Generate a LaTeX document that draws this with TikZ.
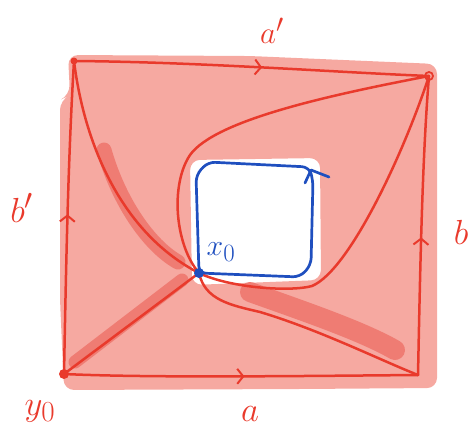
\documentclass[tikz,border=0pt]{standalone}
\usepackage{graphicx}
\usetikzlibrary{arrows.meta,decorations.markings}
\definecolor{pinkfill}{HTML}{F6A9A1}
\definecolor{pinkdark}{HTML}{EF7C73}
\definecolor{penred}{HTML}{E93A2C}
\definecolor{penblue}{HTML}{1F4FBF}
\newcommand{\biglbl}[1]{\scalebox{1.4}{\Huge$#1$}}
\newcommand{\mediumlbl}[1]{\scalebox{1.2}{\Huge$#1$}}
\tikzset{
  edge/.style={draw=penred, line width=2.5pt, line cap=round, line join=round},
  midarrow/.style={postaction={decorate}, decoration={markings, mark=at position #1 with {\arrow[penred]{Straight Barb[length=6pt,width=15pt,line width=2pt]}}}},
  band/.style={draw=pinkdark, line cap=round, line join=round},
  lbl/.style={text=penred, inner sep=0pt},
  bluelbl/.style={text=penblue, inner sep=0pt},
  blueloop/.style={draw=penblue, line width=2.7pt, line cap=round, line join=round},
}
\begin{document}
\begin{tikzpicture}[x=1pt,y=-1pt]
\useasboundingbox (0,0) rectangle (472,440);
% shading
\fill[pinkfill, even odd rule, rounded corners=10pt]
  (68,55) -- (250,56) -- (437,64) -- (437,388) -- (300,389) -- (64,390) -- (60,300) -- (60,100) -- (70,95) -- cycle
  (190,160) -- (320,158) -- (321,280) -- (192,285) -- cycle;
\draw[band, line width=15pt] (104,150) .. controls (118,200) and (148,245) .. (178,262);
\draw[band, line width=20pt] (250,292) .. controls (300,310) and (360,330) .. (395,350);
\draw[band, line width=13pt] (75,362) -- (182,280);
% corners
\coordinate (TL) at (74,61);
\coordinate (TR) at (429,76);
\coordinate (BL) at (64,374);
\coordinate (BR) at (418,375);
\coordinate (X) at (199,273);
% edges of the square
\draw[edge, midarrow=0.53] (TL) .. controls (200,62) and (330,72) .. (TR);
\draw[edge, midarrow=0.46] (BR) .. controls (420,280) and (422,160) .. (TR);
\draw[edge, midarrow=0.51] (BL) .. controls (150,378) and (300,376) .. (BR);
\draw[edge, midarrow=0.51] (BL) .. controls (66,270) and (68,160) .. (TL);
% curves to the base point
\draw[edge] (TL) .. controls (85,150) and (125,235) .. (X);
\draw[edge] (TR) .. controls (330,95) and (215,120) .. (190,155)
                 .. controls (170,185) and (175,245) .. (X);
\draw[edge] (X) .. controls (230,288) and (290,292) .. (312,286)
                .. controls (350,270) and (405,150) .. (TR);
\draw[edge] (X) .. controls (205,300) and (230,305) .. (260,312)
                .. controls (320,330) and (380,360) .. (BR);
\draw[edge] (X) -- (BL);
% blue boundary of the hole
\draw[blueloop, rounded corners=7pt] (X) -- (196,175) -- (208,162) -- (309,167) -- (313,180) -- (311,265) -- (300,277) -- cycle;
\draw[blueloop] (305,183) -- (311,170) -- (329,177);
% points
\fill[penred] (TL) circle (3.5pt);
\draw[penred, line width=1.8pt] (TR) circle (4pt);
\fill[penred] (BL) circle (5pt);
\fill[penblue] (X) circle (5pt);
% labels
\node[lbl] (la2) at (272,31) {\scalebox{1.25}{\Huge$a'$}};
\node[lbl] (lb) at (461,232) {\biglbl{b}};
\node[lbl] (lb2) at (22,208) {\biglbl{b'}};
\node[lbl] (la) at (250,414) {\biglbl{a}};
\node[lbl] (ly) at (40,411) {\biglbl{y_0}};
\node[bluelbl] (lx) at (221,252) {\mediumlbl{x_0}};
\end{tikzpicture}
\end{document}
